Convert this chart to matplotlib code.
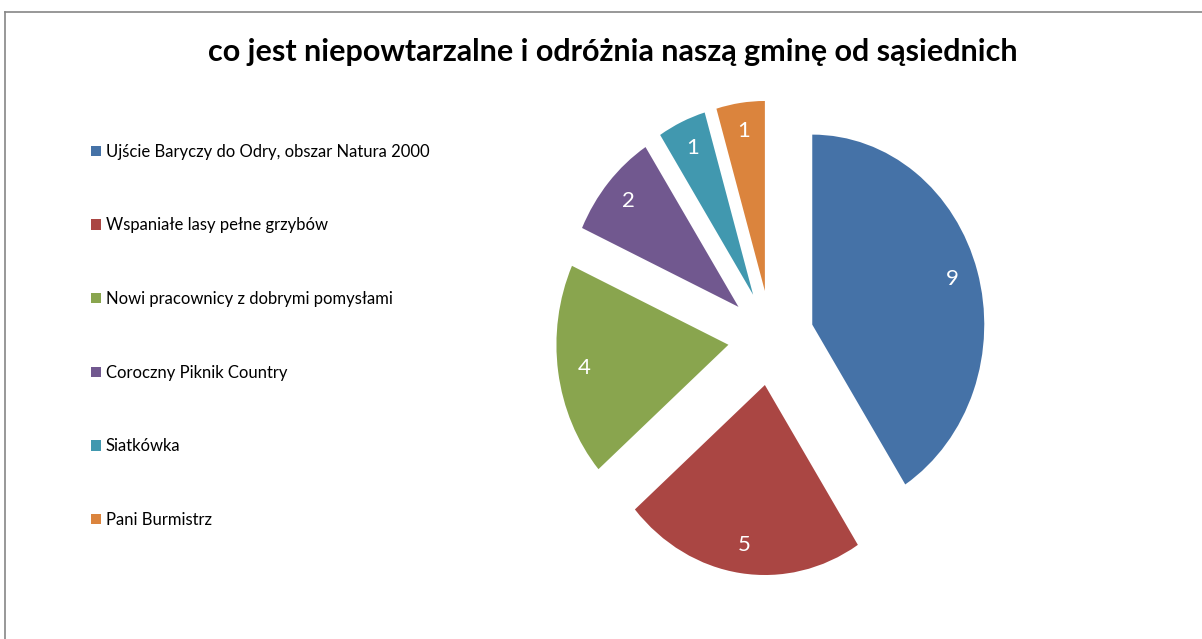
import matplotlib
matplotlib.use("Agg")
import matplotlib.pyplot as plt
from matplotlib.lines import Line2D

labels = ["Ujście Baryczy do Odry, obszar Natura 2000",
          "Wspaniałe lasy pełne grzybów",
          "Nowi pracownicy z dobrymi pomysłami",
          "Coroczny Piknik Country",
          "Siatkówka",
          "Pani Burmistrz"]
values = [9, 5, 4, 2, 1, 1]
colors = ["#4572A7", "#AA4643", "#89A54E", "#71588F", "#4198AF", "#DB843D"]
title = "co jest niepowtarzalne i odróżnia naszą gminę od sąsiednich"

plt.rcParams['font.family'] = ['Lato', 'DejaVu Sans']

W, H = 1202, 639
fig = plt.figure(figsize=(W / 100, H / 100), dpi=100)

# pie centre and radii in pixels (the reference pie is a slightly tall ellipse)
cx, cy, rx, ry = 771, 338, 172, 190
lim = 1.4
ax = fig.add_axes([(cx - lim * rx) / W, (H - cy - lim * ry) / H,
                   2 * lim * rx / W, 2 * lim * ry / H])
wedges, texts = ax.pie(values, colors=colors, startangle=90, counterclock=False,
                       explode=[0.25] * len(values), labels=[str(v) for v in values],
                       labeldistance=0.85, wedgeprops=dict(linewidth=0),
                       textprops=dict(color="white", fontsize=16))
for t in texts:
    t.set_ha("center")
    t.set_va("center")
ax.set_aspect("auto")
ax.set_xlim(-lim, lim)
ax.set_ylim(-lim, lim)
ax.axis("off")

fig.text(613 / W, 1 - 52 / H, title, ha="center", va="center",
         fontsize=22, fontweight="bold")

fig.legend(wedges, labels, loc="upper left", bbox_to_anchor=(84 / W, 1 - 137 / H),
           frameon=False, fontsize=12, handlelength=0.6, handleheight=0.6,
           handletextpad=0.3, labelspacing=3.46, borderaxespad=0)

# chart border (top and left edges visible)
fig.add_artist(Line2D([4.5 / W, 1], [1 - 11.5 / H, 1 - 11.5 / H], color="#868686", lw=1.2))
fig.add_artist(Line2D([4.5 / W, 4.5 / W], [0, 1 - 11.5 / H], color="#868686", lw=1.2))

fig.savefig("out.png", dpi=100)
